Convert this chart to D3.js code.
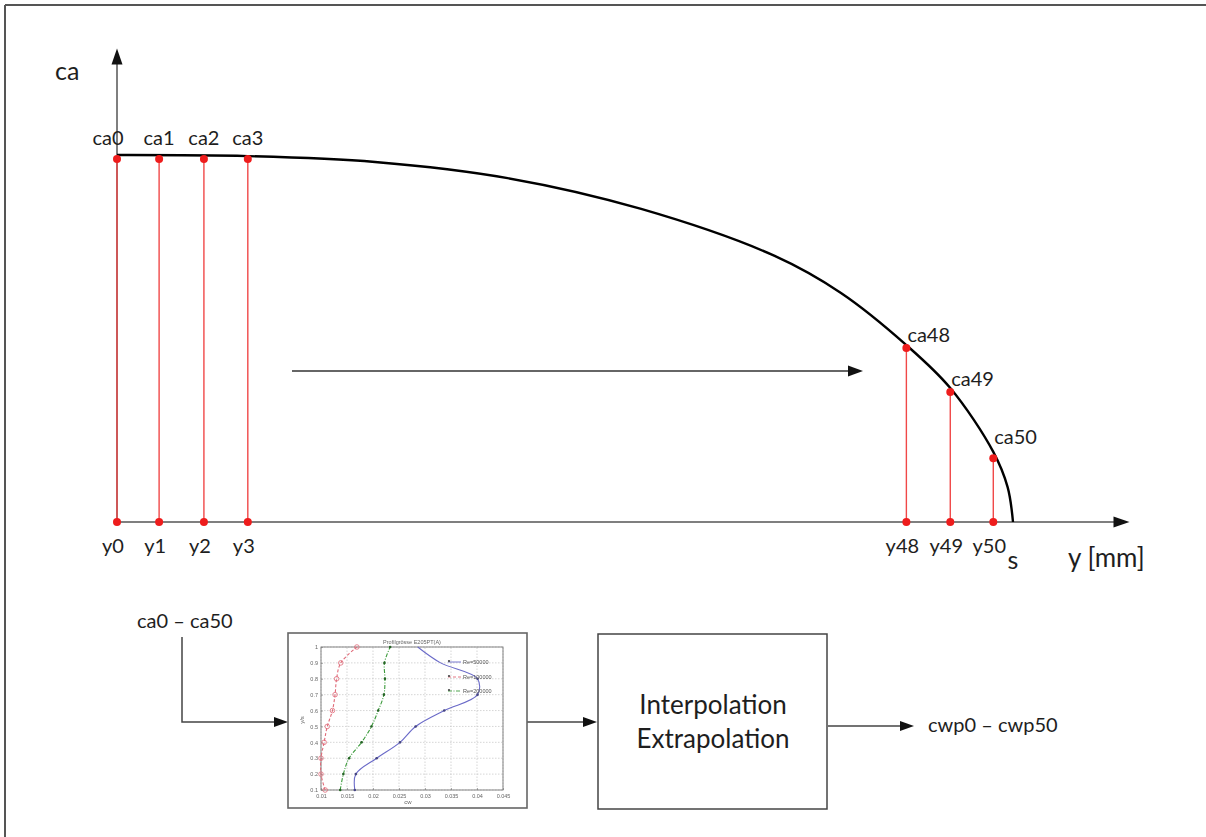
<!DOCTYPE html>
<html><head><meta charset="utf-8">
<script src="https://cdn.jsdelivr.net/npm/d3@7"></script>
<style>html,body{margin:0;padding:0;background:#fff;} svg{display:block;}</style>
</head><body>
<svg id="c" width="1206" height="837"></svg>
<script>
// ---------------- data ----------------
// sample stations (index, relative position y/s, ca value relative to ca0)
const sampleIndex = [0, 1, 2, 3, 48, 49, 50];
const samplePos   = [0, 0.047, 0.097, 0.146, 0.881, 0.930, 0.978];
const sampleCa    = [0.989, 0.989, 0.989, 0.989, 0.474, 0.354, 0.174];
// chord distribution curve
const profilePos = [0, 0.146, 0.288, 0.436, 0.585, 0.734, 0.808, 0.881, 0.930, 0.978, 0.994, 1];
const profileCa  = [1.0, 0.997, 0.981, 0.937, 0.853, 0.725, 0.624, 0.482, 0.365, 0.191, 0.095, 0];
// embedded small plot
const miniR     = [0.1, 0.2, 0.3, 0.4, 0.5, 0.6, 0.7, 0.8, 0.9, 1.0];
const cwRed     = [0.0108, 0.0100, 0.0100, 0.0106, 0.0112, 0.0122, 0.0127, 0.0130, 0.0138, 0.0169];
const cwGreen   = [0.0137, 0.0143, 0.0154, 0.0178, 0.0197, 0.0210, 0.0221, 0.0223, 0.0222, 0.0233];
const cwBlue    = [0.0165, 0.0167, 0.0207, 0.0252, 0.0282, 0.0337, 0.0401, 0.0401, 0.0330, 0.0286];
const miniXTicks = [0.01, 0.015, 0.02, 0.025, 0.03, 0.035, 0.04, 0.045];
const miniYTicks = [0.1, 0.2, 0.3, 0.4, 0.5, 0.6, 0.7, 0.8, 0.9, 1];
const legendLabels = ["Re=50000", "Re=100000", "Re=200000"];

// ---------------- drawing ----------------
const svg = d3.select("#c");
const FONT = "Lato, 'Open Sans', sans-serif";
const TXT = "#1e1e1e";

const defs = svg.append("defs");
defs.append("filter").attr("id","soft").append("feGaussianBlur").attr("stdDeviation",0.45);

// outer frame (top & left visible)
svg.append("line").attr("x1",5).attr("y1",5).attr("x2",1206).attr("y2",5).attr("stroke","#555").attr("stroke-width",2);
svg.append("line").attr("x1",5).attr("y1",5).attr("x2",5).attr("y2",837).attr("stroke","#555").attr("stroke-width",2);

const x = d3.scaleLinear().domain([0, 1]).range([117, 1013]);
const y = d3.scaleLinear().domain([0, 1]).range([522, 155]);

function arrowHead(g, tipX, tipY, dir, len, half, color) {
  let pts;
  if (dir === "right") pts = [[tipX, tipY], [tipX - len, tipY - half], [tipX - len, tipY + half]];
  else pts = [[tipX, tipY], [tipX - half, tipY + len], [tipX + half, tipY + len]];
  g.append("polygon").attr("points", pts.map(p => p.join(",")).join(" ")).attr("fill", color);
}

const main = svg.append("g");
// axes
main.append("line").attr("x1", x(0)).attr("y1", y(0)).attr("x2", x(0)).attr("y2", y(1.29) + 14)
  .attr("stroke", "#555").attr("stroke-width", 1.5);
arrowHead(main, x(0), y(1.29), "up", 16, 5.5, "#111");
main.append("line").attr("x1", x(0)).attr("y1", y(0)).attr("x2", x(1.13) - 14).attr("y2", y(0))
  .attr("stroke", "#555").attr("stroke-width", 1.5);
arrowHead(main, x(1.13), y(0), "right", 16, 5.5, "#111");

// red stations
const stations = sampleIndex.map((k, i) => ({k, p: samplePos[i], c: sampleCa[i]}));
main.selectAll("line.st").data(stations).join("line").attr("class","st")
  .attr("x1", d => x(d.p)).attr("x2", d => x(d.p)).attr("y1", y(0)).attr("y2", d => y(d.c))
  .attr("stroke", "#f04848").attr("stroke-width", 1.4);

// profile curve
const line = d3.line().x((d) => x(d[0])).y(d => y(d[1])).curve(d3.curveCatmullRom.alpha(0.5));
main.append("path").datum(profilePos.map((p, i) => [p, profileCa[i]]))
  .attr("d", line).attr("fill", "none").attr("stroke", "#000").attr("stroke-width", 2.4);

main.selectAll("circle.top").data(stations).join("circle").attr("class","top")
  .attr("cx", d => x(d.p)).attr("cy", d => y(d.c)).attr("r", 4).attr("fill", "#ee1c1c");
main.selectAll("circle.bot").data(stations).join("circle").attr("class","bot")
  .attr("cx", d => x(d.p)).attr("cy", y(0)).attr("r", 4).attr("fill", "#ee1c1c");

// labels
main.append("text").attr("x", 55).attr("y", 80).text("ca")
  .attr("font-family", FONT).attr("font-size", 25).attr("fill", TXT);
main.selectAll("text.ca").data(stations).join("text").attr("class","ca")
  .attr("x", d => d.k <= 3 ? x(d.p) + (d.k === 0 ? -9 : 0) : x(d.p) + 1)
  .attr("y", d => d.k <= 3 ? 145 : y(d.c) - (d.k === 50 ? 14 : 6))
  .attr("text-anchor", d => d.k <= 3 ? "middle" : "start")
  .attr("font-family", FONT).attr("font-size", 20).attr("fill", TXT)
  .text(d => "ca" + d.k);
main.selectAll("text.yl").data(stations).join("text").attr("class","yl")
  .attr("x", d => x(d.p) - 4).attr("y", 553).attr("text-anchor", "middle")
  .attr("font-family", FONT).attr("font-size", 20).attr("fill", TXT)
  .text(d => "y" + d.k);
main.append("text").attr("x", x(1)).attr("y", 569).attr("text-anchor","middle").text("s")
  .attr("font-family", FONT).attr("font-size", 25).attr("fill", TXT);
main.append("text").attr("x", 1068).attr("y", 567).text("y [mm]")
  .attr("font-family", FONT).attr("font-size", 26).attr("fill", TXT);

// middle arrow
main.append("line").attr("x1", 292).attr("y1", 371).attr("x2", 850).attr("y2", 371)
  .attr("stroke", "#333").attr("stroke-width", 1.5);
arrowHead(main, 863, 371, "right", 15, 5.5, "#111");

// ---------------- flow diagram ----------------
const flow = svg.append("g");
flow.append("text").attr("x", 137).attr("y", 628).text("ca0 – ca50")
  .attr("font-family", FONT).attr("font-size", 20).attr("fill", TXT);
flow.append("path").attr("d", "M182,637 V722 H276").attr("fill","none").attr("stroke","#444").attr("stroke-width",1.5);
arrowHead(flow, 288, 722, "right", 14, 5, "#111");
flow.append("line").attr("x1",527).attr("y1",722).attr("x2",585).attr("y2",722).attr("stroke","#444").attr("stroke-width",1.5);
arrowHead(flow, 597, 722, "right", 14, 5, "#111");
flow.append("rect").attr("x",598).attr("y",634).attr("width",229).attr("height",175)
  .attr("fill","#fff").attr("stroke","#444").attr("stroke-width",1.5);
flow.append("text").attr("x",713).attr("y",714).attr("text-anchor","middle").text("Interpolation")
  .attr("font-family", FONT).attr("font-size", 26).attr("fill", TXT);
flow.append("text").attr("x",713).attr("y",748).attr("text-anchor","middle").text("Extrapolation")
  .attr("font-family", FONT).attr("font-size", 26).attr("fill", TXT);
flow.append("line").attr("x1",828).attr("y1",726).attr("x2",901).attr("y2",726).attr("stroke","#444").attr("stroke-width",1.5);
arrowHead(flow, 914, 726, "right", 14, 5, "#111");
flow.append("text").attr("x", 928).attr("y", 732).text("cwp0 – cwp50")
  .attr("font-family", FONT).attr("font-size", 20).attr("fill", TXT);

// ---------------- embedded mini plot ----------------
const mini = svg.append("g");
mini.append("rect").attr("x",288).attr("y",633).attr("width",239).attr("height",175)
  .attr("fill","#fff").attr("stroke","#666").attr("stroke-width",1.6);
const mg = mini.append("g").attr("filter","url(#soft)");
const mx = d3.scaleLinear().domain([0.01, 0.045]).range([321, 503]);
const my = d3.scaleLinear().domain([0.1, 1]).range([790, 647]);
// grid
mg.selectAll("line.gx").data(miniXTicks).join("line").attr("class","gx")
  .attr("x1", d => mx(d)).attr("x2", d => mx(d)).attr("y1", my(0.1)).attr("y2", my(1))
  .attr("stroke","#bbb").attr("stroke-width",0.6).attr("stroke-dasharray","1.5,1.5");
mg.selectAll("line.gy").data(miniYTicks).join("line").attr("class","gy")
  .attr("x1", mx(0.01)).attr("x2", mx(0.045)).attr("y1", d => my(d)).attr("y2", d => my(d))
  .attr("stroke","#bbb").attr("stroke-width",0.6).attr("stroke-dasharray","1.5,1.5");
mg.append("rect").attr("x", mx(0.01)).attr("y", my(1)).attr("width", mx(0.045)-mx(0.01)).attr("height", my(0.1)-my(1))
  .attr("fill","none").attr("stroke","#777").attr("stroke-width",0.9);
const ax = mg.append("g").attr("transform", `translate(0,${my(0.1)})`)
  .call(d3.axisBottom(mx).tickValues(miniXTicks).tickSize(-2).tickFormat(d => String(+d.toFixed(3))));
const ay = mg.append("g").attr("transform", `translate(${mx(0.01)},0)`)
  .call(d3.axisLeft(my).tickValues(miniYTicks).tickSize(-2).tickFormat(d => String(+d.toFixed(1))));
[ax, ay].forEach(a => {
  a.select(".domain").remove();
  a.selectAll("line").attr("stroke","#777").attr("stroke-width",0.6);
  a.selectAll("text").attr("font-family","Liberation Sans, Arial, sans-serif").attr("font-size",5.5).attr("fill","#666");
});
ax.selectAll("text").attr("dy","0.9em");
mg.append("text").attr("x", 408).attr("y", 804).attr("text-anchor","middle").text("cw")
  .attr("font-family","Liberation Sans, Arial, sans-serif").attr("font-size",6).attr("fill","#666");
mg.append("text").attr("transform","translate(304,720) rotate(-90)").attr("text-anchor","middle").text("y/s")
  .attr("font-family","Liberation Sans, Arial, sans-serif").attr("font-size",6).attr("fill","#666");
mg.append("text").attr("x", 412).attr("y", 644).attr("text-anchor","middle").text("Profilgrösse E205PT(A)")
  .attr("font-family","Liberation Sans, Arial, sans-serif").attr("font-size",5.5).attr("fill","#666");

const series = [
  {vals: cwRed,   color: "#e06a78", dash: "3,2",         marker: "open"},
  {vals: cwGreen, color: "#3a9a3a", dash: "4,1.5,1,1.5", marker: "dot"},
  {vals: cwBlue,  color: "#6a6ac8", dash: null,          marker: "dot"}
];
const mline = d3.line().x(d => mx(d[0])).y(d => my(d[1])).curve(d3.curveCatmullRom.alpha(0.5));
series.forEach(s => {
  const pts = s.vals.map((v, i) => [v, miniR[i]]);
  mg.append("path").datum(pts).attr("d", mline).attr("fill","none")
    .attr("stroke", s.color).attr("stroke-width", 1.1).attr("stroke-dasharray", s.dash);
  mg.selectAll(null).data(s === series[2] ? pts.slice(0, 8) : pts).join("circle")
    .attr("cx", d => mx(d[0])).attr("cy", d => my(d[1]))
    .attr("r", s.marker === "open" ? 2.3 : 1.3)
    .attr("fill", s.marker === "open" ? "none" : d3.color(s.color).darker(1.2))
    .attr("stroke", s.marker === "open" ? s.color : "none").attr("stroke-width", 0.8);
});
// legend
legendLabels.forEach((lab, i) => {
  const ly = [662, 677, 691][i];
  const s = series[[2,0,1][i]];
  mg.append("line").attr("x1",448).attr("x2",461).attr("y1",ly).attr("y2",ly)
    .attr("stroke", s.color).attr("stroke-width",0.9).attr("stroke-dasharray", s.dash);
  mg.append("circle").attr("cx",449).attr("cy",ly-1).attr("r",1.1).attr("fill","#444");
  mg.append("text").attr("x",463).attr("y",ly+2).text(lab)
    .attr("font-family","Liberation Sans, Arial, sans-serif").attr("font-size",5.5).attr("fill","#555");
});
</script>
</body></html>
